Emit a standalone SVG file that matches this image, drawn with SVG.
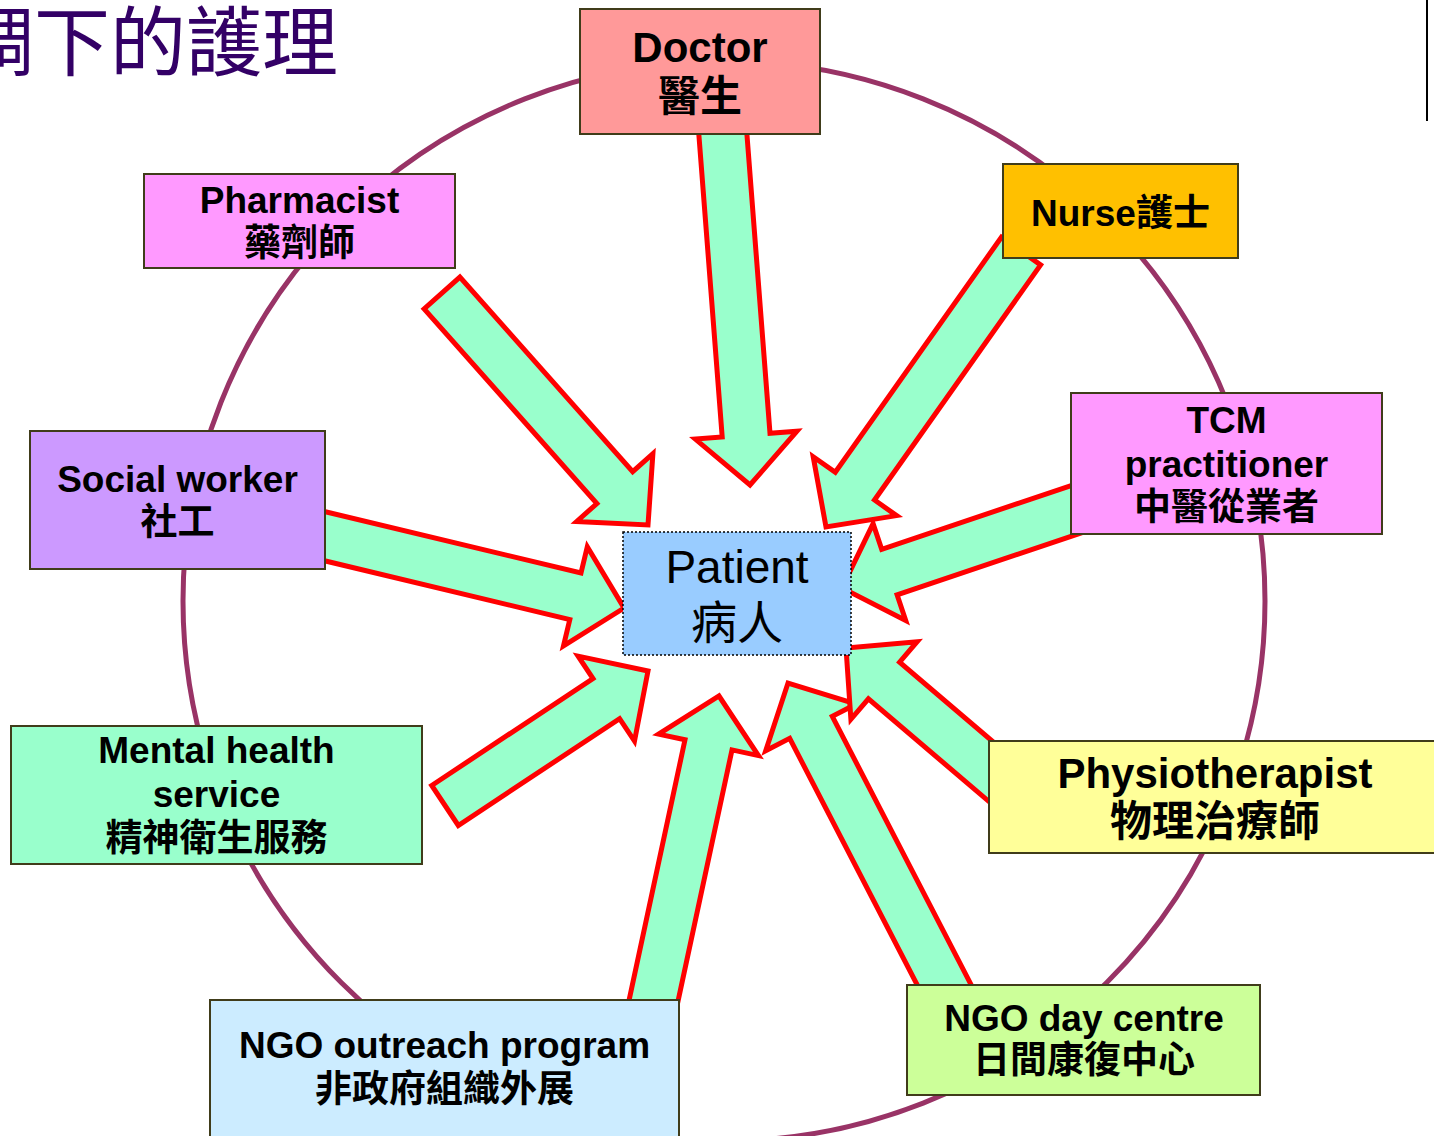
<svg xmlns="http://www.w3.org/2000/svg" width="1434" height="1136" viewBox="0 0 1434 1136">
  <style>
    .ring { fill: none; stroke: #993366; stroke-width: 5; }
    .arrow { fill: #99FFCC; stroke: #FF0000; stroke-width: 5; stroke-linejoin: miter; stroke-miterlimit: 10; }
    .box { stroke: #403C1A; stroke-width: 2; }
    .lbl { font-family: "Liberation Sans", "Noto Sans CJK TC", sans-serif; font-weight: bold; font-size: 37px; fill: #000; text-anchor: middle; }
    .big { font-size: 42px; }
    .pt { font-family: "Liberation Sans", "Noto Sans CJK TC", sans-serif; font-size: 46px; fill: #000; text-anchor: middle; }
    .title { font-family: "Noto Sans CJK TC", sans-serif; font-size: 76px; fill: #330066; }
  </style>

  <rect width="1434" height="1136" fill="#FFFFFF"/>

  <!-- heading, clipped at the left edge -->
  <text class="title" x="-42" y="70">調下的護理</text>
  <line x1="1427" y1="0" x2="1427" y2="121" stroke="#000" stroke-width="2"/>

  <!-- care circle -->
  <ellipse class="ring" cx="724" cy="601" rx="541" ry="540"/>

  <!-- block arrows pointing to the patient -->
  <g id="connectors">
    <polygon class="arrow" points="697.1,111.9 722.2,437.0 695.3,439.1 750,485 796.9,431.2 770.0,433.3 744.9,108.1"/>
    <polygon class="arrow" points="424.1,308.9 596.9,503.5 576.7,521.5 648,525 652.9,453.7 632.7,471.7 459.9,277.1"/>
    <polygon class="arrow" points="1001.4,237.2 835.3,472.3 813.2,456.7 826,527 896.6,515.6 874.5,500.0 1040.6,264.9"/>
    <polygon class="arrow" points="1080.8,482.3 881.7,549.3 873.1,523.7 842,588 905.7,620.4 897.1,594.8 1096.2,527.9"/>
    <polygon class="arrow" points="308.7,507.7 581.0,573.0 587.3,546.7 624,608 563.5,645.9 569.8,619.6 297.5,554.3"/>
    <polygon class="arrow" points="431.7,785.5 593.0,678.6 578.1,656.1 648,671 634.5,741.1 619.6,718.6 458.3,825.5"/>
    <polygon class="arrow" points="624.1,1023.4 685.0,739.8 658.6,734.2 719,696 758.4,755.6 732.0,749.9 671.1,1033.4"/>
    <polygon class="arrow" points="934.4,1018.2 789.7,738.4 765.7,750.8 788,683 856.3,704.0 832.3,716.4 977.0,996.2"/>
    <polygon class="arrow" points="1029.0,772.5 899.6,662.2 917.1,641.7 846,648 850.9,719.3 868.4,698.8 997.8,809.1"/>
  </g>

  <g id="doctor">
    <rect class="box" x="580" y="9" width="240" height="125" fill="#FF9999"/>
    <text class="lbl big" x="700" y="62">Doctor</text>
    <text class="lbl big" x="700" y="111">醫生</text>
  </g>

  <g id="pharmacist">
    <rect class="box" x="144" y="174" width="311" height="94" fill="#FF99FF"/>
    <text class="lbl" x="299.5" y="213">Pharmacist</text>
    <text class="lbl" x="299.5" y="256">藥劑師</text>
  </g>

  <g id="nurse">
    <rect class="box" x="1003" y="164" width="235" height="94" fill="#FFC000"/>
    <text class="lbl" x="1120.5" y="226">Nurse護士</text>
  </g>

  <g id="tcm">
    <rect class="box" x="1071" y="393" width="311" height="141" fill="#FF99FF"/>
    <text class="lbl" x="1226.5" y="433">TCM</text>
    <text class="lbl" x="1226.5" y="477">practitioner</text>
    <text class="lbl" x="1226.5" y="520">中醫從業者</text>
  </g>

  <g id="social-worker">
    <rect class="box" x="30" y="431" width="295" height="138" fill="#CC99FF"/>
    <text class="lbl" x="177.5" y="492">Social worker</text>
    <text class="lbl" x="177.5" y="535">社工</text>
  </g>

  <g id="mental-health">
    <rect class="box" x="11" y="726" width="411" height="138" fill="#99FFCC"/>
    <text class="lbl" x="216.5" y="763">Mental health</text>
    <text class="lbl" x="216.5" y="807">service</text>
    <text class="lbl" x="216.5" y="851">精神衛生服務</text>
  </g>

  <g id="physiotherapist">
    <rect class="box" x="989" y="741" width="460" height="112" fill="#FFFF99"/>
    <text class="lbl big" x="1215" y="788">Physiotherapist</text>
    <text class="lbl big" x="1215" y="836">物理治療師</text>
  </g>

  <g id="ngo-day-centre">
    <rect class="box" x="907" y="985" width="353" height="110" fill="#CCFF99"/>
    <text class="lbl" x="1084" y="1031">NGO day centre</text>
    <text class="lbl" x="1084" y="1073">日間康復中心</text>
  </g>

  <g id="ngo-outreach">
    <rect class="box" x="210" y="1000" width="469" height="150" fill="#CCECFF"/>
    <text class="lbl" x="444.5" y="1058">NGO outreach program</text>
    <text class="lbl" x="444.5" y="1102">非政府組織外展</text>
  </g>

  <g id="patient">
    <rect x="623" y="532" width="228" height="123" fill="#99CCFF" stroke="#000" stroke-width="1.5" stroke-dasharray="2 2"/>
    <text class="pt" x="737" y="583">Patient</text>
    <text class="pt" x="737" y="639">病人</text>
  </g>
</svg>
